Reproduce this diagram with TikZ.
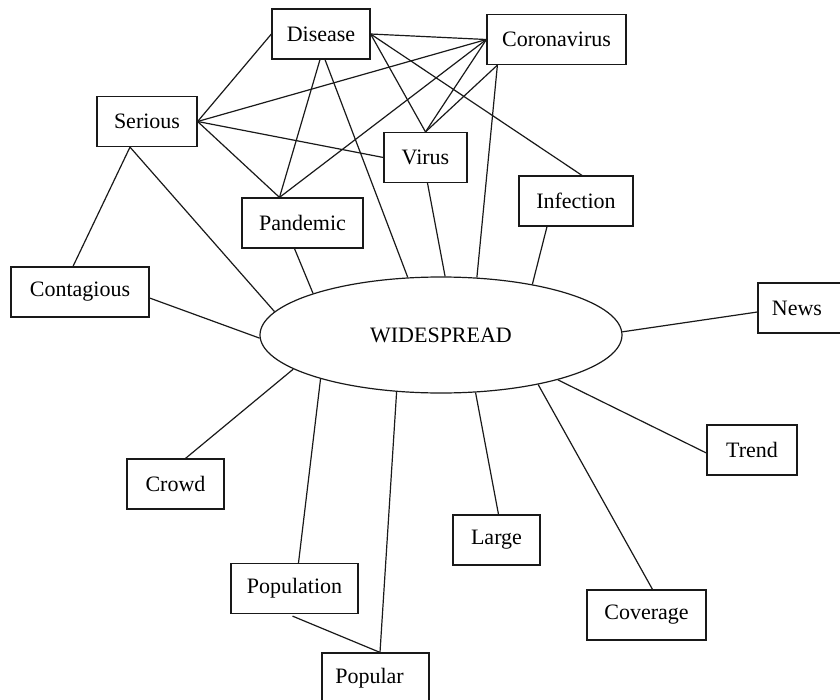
\documentclass[tikz,border=0pt]{standalone}
\usepackage{fontspec}
\setmainfont{Liberation Serif}
\usetikzlibrary{shapes.geometric,calc}
\begin{document}
\begin{tikzpicture}[x=0.75pt,y=-0.75pt,
  every node/.style={font=\fontsize{16.5}{19}\selectfont},
  word/.style={draw=black!90, line width=0.9pt, rectangle, inner sep=0pt,
    minimum height=37.5pt, minimum width=#1},
  hub/.style={draw=black!90, line width=0.9pt, ellipse, inner sep=0pt,
    minimum width=271.5pt, minimum height=87pt},
  link/.style={draw=black!90, line width=0.9pt}]
\useasboundingbox (0,0) rectangle (840,700);
\clip (0,0) rectangle (840,700);

% central term
\node[hub] (wide) at (441,335) {WIDESPREAD};

% associated terms
\node[word=73.5pt]  (dis)  at (321,34)    {Disease};
\node[word=75pt]    (ser)  at (147,121.5) {Serious};
\node[word=104.25pt](cor)  at (556.5,39.5){Coronavirus};
\node[word=62.25pt] (vir)  at (425.5,157.5){Virus};
\node[word=90.75pt] (pan)  at (302.5,223) {Pandemic};
\node[word=85.5pt]  (inf)  at (576,201)   {Infection};
\node[word=103.5pt] (con)  at (80,292)    {Contagious};
\node[word=67.5pt]  (news) at (803,308)   {News\kern9pt};
\node[word=72.75pt] (crowd)at (175.5,484) {Crowd};
\node[word=95.25pt] (popn) at (294.5,588.5){Population};
\node[word=80.25pt] (popr) at (375.5,678) {Popular\kern9pt};
\node[word=65.25pt] (large)at (496.5,540) {Large};
\node[word=89.25pt] (cov)  at (646.5,615) {Coverage};
\node[word=67.5pt]  (trend)at (752,450)   {Trend};

% web among the upper terms
\draw[link] (ser.east) -- (dis.west);
\draw[link] (ser.east) -- (cor.west);
\draw[link] (ser.east) -- (vir.west);
\draw[link] (ser.east) -- ($(pan.north)+(-23,0)$);
\draw[link] (dis.east) -- (cor.west);
\draw[link] (dis.east) -- (vir.north);
\draw[link] (dis.east) -- ($(inf.north)+(6,0)$);
\draw[link] ($(dis.south)+(-1,0)$) -- ($(pan.north)+(-23,0)$);
\draw[link] ($(pan.north)+(-23,0)$) -- (cor.west);
\draw[link] (cor.west) -- (vir.north);
\draw[link] ($(cor.south west)+(11,0)$) -- (vir.north);
\draw[link] ($(ser.south)+(-17,0)$) -- ($(con.north)+(-7,0)$);
\draw[link] ($(popn.south)+(-2,2)$) -- ($(popr.north)+(4.5,0)$);

% spokes to the central term
\draw[link] ($(dis.south)+(4,0)$) -- (wide.120.8);
\draw[link] ($(ser.south)+(-17,0)$) -- (wide.172.4);
\draw[link] ($(pan.south)+(-8,0)$) -- (wide.162.9);
\draw[link] ($(con.east)+(0,6)$) -- (wide.181.6);
\draw[link] ($(vir.south)+(2,0)$) -- (wide.86);
\draw[link] ($(cor.south west)+(11,0)$) -- (wide.58.4);
\draw[link] ($(inf.south)+(-29,0)$) -- (wide.29.6);
\draw[link] ($(news.west)+(0,4)$) -- (wide.1.3);
\draw[link] ($(crowd.north)+(10,0)$) -- (wide.193.8);
\draw[link] ($(popn.north)+(4,0)$) -- (wide.200.3);
\draw[link] ($(popr.north)+(4.5,0)$) -- (wide.232.8);
\draw[link] ($(large.north)+(2,0)$) -- (wide.301.1);
\draw[link] ($(cov.north)+(6,0)$) -- (wide.333);
\draw[link] ($(trend.west)+(0,3)$) -- (wide.339.7);
\end{tikzpicture}
\end{document}
